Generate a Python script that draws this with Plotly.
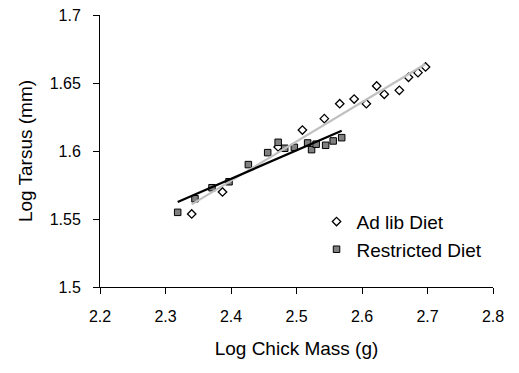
import numpy as np
import plotly.graph_objects as go

# Ad lib Diet (open diamonds)
adlib_x = [2.340, 2.387, 2.472, 2.509, 2.5425, 2.566, 2.588, 2.6066, 2.6224, 2.634, 2.657, 2.671, 2.6855, 2.697]
adlib_y = [1.5537, 1.5699, 1.603, 1.6154, 1.6238, 1.6348, 1.6382, 1.6348, 1.6478, 1.6417, 1.6446, 1.6542, 1.6576, 1.6618]

# Restricted Diet (grey squares)
restr_x = [2.3186, 2.345, 2.371, 2.397, 2.4265, 2.456, 2.472, 2.482, 2.4967, 2.517, 2.523, 2.530, 2.5445, 2.556, 2.569]
restr_y = [1.5549, 1.5649, 1.573, 1.5774, 1.590, 1.5988, 1.6064, 1.602, 1.6027, 1.6059, 1.601, 1.605, 1.6042, 1.6074, 1.6098]

x_ticks = [2.2, 2.3, 2.4, 2.5, 2.6, 2.7, 2.8]
y_ticks = [1.5, 1.55, 1.6, 1.65, 1.7]
x_tick_labels = ["2.2", "2.3", "2.4", "2.5", "2.6", "2.7", "2.8"]
y_tick_labels = ["1.5", "1.55", "1.6", "1.65", "1.7"]


def trend(xs, ys):
    m, b = np.polyfit(xs, ys, 1)
    xe = [min(xs), max(xs)]
    return xe, [m * v + b for v in xe]


FONT = "Liberation Sans, Arial, sans-serif"

fig = go.Figure()
fig.add_trace(go.Scatter(
    x=adlib_x, y=adlib_y, mode="markers", name="Ad lib Diet",
    legendgroup="a",
    marker=dict(symbol="diamond", size=6.5, color="white",
                line=dict(color="black", width=1.3)),
))
fig.add_trace(go.Scatter(
    x=restr_x, y=restr_y, mode="markers", name="Restricted Diet",
    legendgroup="b",
    marker=dict(symbol="square", size=6.5, color="#808080",
                line=dict(color="black", width=1)),
))
tx, ty = trend(adlib_x, adlib_y)
fig.add_trace(go.Scatter(x=tx, y=ty, mode="lines", showlegend=False,
                         line=dict(color="#C0C0C0", width=2.2)))
tx, ty = trend(restr_x, restr_y)
fig.add_trace(go.Scatter(x=tx, y=ty, mode="lines", showlegend=False,
                         line=dict(color="black", width=2.2)))

fig.update_layout(
    width=519, height=373,
    margin=dict(l=100, r=26, t=15, b=86, autoexpand=False),
    paper_bgcolor="white", plot_bgcolor="white",
    font=dict(family=FONT, size=16, color="black"),
    showlegend=True,
    legend=dict(x=0.551, y=0.31, xanchor="left", yanchor="top",
                bgcolor="rgba(0,0,0,0)", tracegroupgap=0,
                font=dict(size=19), itemwidth=30),
    xaxis=dict(range=[2.2, 2.8], tickvals=x_ticks, ticktext=x_tick_labels,
               showgrid=False, zeroline=False, showline=True, automargin=False,
               linecolor="black", linewidth=1, ticks="outside", ticklen=6,
               tickcolor="black", ticklabelstandoff=9,
               title=dict(text="Log Chick Mass (g)", standoff=17)),
    yaxis=dict(range=[1.5, 1.7], tickvals=y_ticks, ticktext=y_tick_labels,
               showgrid=False, zeroline=False, showline=True, automargin=False,
               linecolor="black", linewidth=1, ticks="outside", ticklen=6,
               tickcolor="black", ticklabelstandoff=9,
               title=dict(text="Log Tarsus (mm)", standoff=12)),
)

fig.write_html("out.html")
